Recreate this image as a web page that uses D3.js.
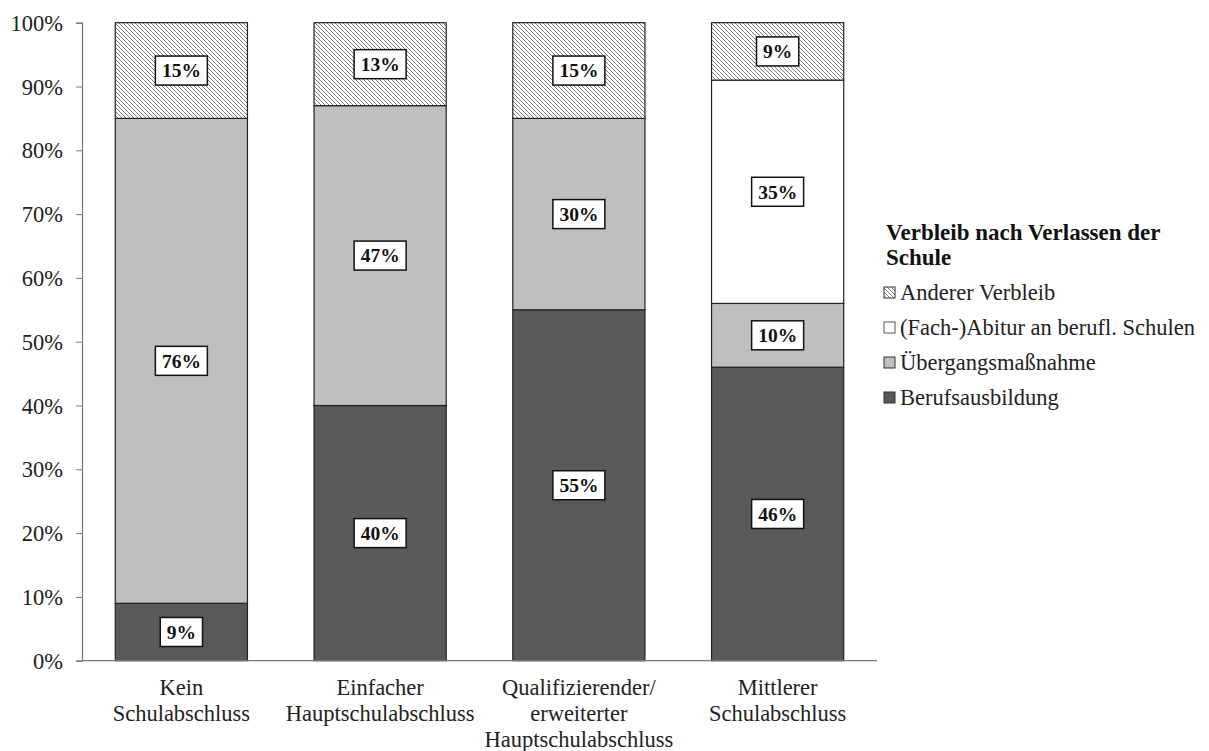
<!DOCTYPE html>
<html>
<head>
<meta charset="utf-8">
<script src="https://cdnjs.cloudflare.com/ajax/libs/d3/7.8.5/d3.min.js"></script>
<style>
  body { margin: 0; background: #fff; }
  svg text { font-family: "Liberation Serif", "Times New Roman", serif; }
</style>
</head>
<body>
<svg id="chart" width="1209" height="751"></svg>
<script>
// categories (x axis), each one split in lines
var aCategories = [
    ["Kein", "Schulabschluss"],
    ["Einfacher", "Hauptschulabschluss"],
    ["Qualifizierender/", "erweiterter", "Hauptschulabschluss"],
    ["Mittlerer", "Schulabschluss"]
];

// series, bottom to top
var aSeries = ["Berufsausbildung", "Übergangsmaßnahme", "(Fach-)Abitur an berufl. Schulen", "Anderer Verbleib"];
var aBeruf = [9, 40, 55, 46];
var aUebergang = [76, 47, 30, 10];
var aAbitur = [0, 0, 0, 35];
var aAnderer = [15, 13, 15, 9];

var aTicks = [0, 10, 20, 30, 40, 50, 60, 70, 80, 90, 100];
var legendTitle = ["Verbleib nach Verlassen der", "Schule"];

var aFills = ["#595959", "#bfbfbf", "#ffffff", "url(#hatch)"];

var svg = d3.select("#chart");

var defs = svg.append("defs");
var pat = defs.append("pattern")
    .attr("id", "hatch")
    .attr("patternUnits", "userSpaceOnUse")
    .attr("width", 4)
    .attr("height", 4);
pat.append("rect").attr("width", 4).attr("height", 4).attr("fill", "#fff");
pat.append("path")
    .attr("d", "M-1,-1 L5,5 M-1,3 L1,5 M3,-1 L5,1")
    .attr("stroke", "#6e6e6e")
    .attr("stroke-width", 0.9);

var plotLeft = 82, plotRight = 877, plotTop = 22.7, plotBottom = 660.7;
var fontSize = "22.5px";

var keys = aCategories.map(function(d, i){ return i; });
var rows = keys.map(function(i){
    return { i: i, s0: aBeruf[i], s1: aUebergang[i], s2: aAbitur[i], s3: aAnderer[i] };
});

var stack = d3.stack().keys(["s0", "s1", "s2", "s3"]);
var stacked = stack(rows);

var x = d3.scaleBand()
    .domain(keys)
    .range([plotLeft, plotRight])
    .paddingInner(0.335)
    .paddingOuter(0.1675);

var y = d3.scaleLinear()
    .domain([0, 100])
    .range([plotBottom, plotTop]);

// y axis
var yAxis = d3.axisLeft(y)
    .tickValues(aTicks)
    .tickSize(6)
    .tickFormat(function(d){ return d + "%"; });

var gy = svg.append("g")
    .attr("transform", "translate(" + plotLeft + ",0)")
    .call(yAxis);
gy.select(".domain").attr("stroke", "#777").attr("stroke-width", 1.2);
gy.selectAll(".tick line").attr("stroke", "#777");
gy.selectAll(".tick text")
    .attr("x", -19)
    .attr("dy", "0.34em")
    .attr("font-size", fontSize)
    .attr("fill", "#222")
    .style("font-family", "Liberation Serif");

// bars
var layers = svg.selectAll("g.layer")
    .data(stacked)
    .enter()
    .append("g")
    .attr("class", "layer")
    .attr("fill", function(d, i){ return aFills[i]; });

layers.selectAll("rect")
    .data(function(d){ return d.filter(function(p){ return p[1] - p[0] > 0; }); })
    .enter()
    .append("rect")
    .attr("x", function(d){ return x(d.data.i); })
    .attr("y", function(d){ return y(d[1]); })
    .attr("width", x.bandwidth())
    .attr("height", function(d){ return y(d[0]) - y(d[1]); })
    .attr("stroke", "#222")
    .attr("stroke-width", 1.2);

// x axis line
svg.append("line")
    .attr("x1", plotLeft).attr("x2", plotRight)
    .attr("y1", y(0)).attr("y2", y(0))
    .attr("stroke", "#777")
    .attr("stroke-width", 1.2);

// value labels
var aLabels = [];
stacked.forEach(function(layer){
    layer.forEach(function(d){
        if(d[1] - d[0] > 0){
            aLabels.push({ cx: x(d.data.i) + x.bandwidth() / 2, cy: y((d[0] + d[1]) / 2), v: d[1] - d[0] });
        }
    });
});

var lab = svg.selectAll("g.lab")
    .data(aLabels)
    .enter()
    .append("g")
    .attr("class", "lab")
    .attr("transform", function(d){ return "translate(" + d.cx + "," + d.cy + ")"; });

lab.append("text")
    .text(function(d){ return d.v + "%"; })
    .attr("text-anchor", "middle")
    .attr("y", 6.8)
    .attr("font-size", "19.5px")
    .attr("font-weight", "bold")
    .attr("fill", "#111");

lab.each(function(){
    var g = d3.select(this);
    var bb = g.select("text").node().getBBox();
    g.insert("rect", "text")
        .attr("x", bb.x - 6.5)
        .attr("y", -14.5)
        .attr("width", bb.width + 13)
        .attr("height", 29)
        .attr("fill", "#fff")
        .attr("stroke", "#111")
        .attr("stroke-width", 1.5);
});

// category labels
var cat = svg.selectAll("text.cat")
    .data(aCategories)
    .enter()
    .append("text")
    .attr("class", "cat")
    .attr("text-anchor", "middle")
    .attr("font-size", fontSize)
    .attr("fill", "#222");

cat.selectAll("tspan")
    .data(function(d, i){ return d.map(function(t){ return { t: t, i: i }; }); })
    .enter()
    .append("tspan")
    .attr("x", function(d){ return x(d.i) + x.bandwidth() / 2; })
    .attr("y", function(d, j){ return 695 + j * 26; })
    .text(function(d){ return d.t; });

// legend
var lg = svg.append("g").attr("transform", "translate(884,0)");

lg.selectAll("text.title")
    .data(legendTitle)
    .enter()
    .append("text")
    .attr("class", "title")
    .attr("x", 2)
    .attr("y", function(d, i){ return 240 + i * 25; })
    .attr("font-size", "23px")
    .attr("font-weight", "bold")
    .attr("fill", "#111")
    .text(function(d){ return d; });

var legendItems = aSeries.map(function(s, i){ return { name: s, fill: aFills[i] }; }).reverse();

var li = lg.selectAll("g.item")
    .data(legendItems)
    .enter()
    .append("g")
    .attr("class", "item")
    .attr("transform", function(d, i){ return "translate(0," + (300 + i * 35) + ")"; });

li.append("rect")
    .attr("x", 0)
    .attr("y", -13)
    .attr("width", 11)
    .attr("height", 11)
    .attr("fill", function(d){ return d.fill; })
    .attr("stroke", function(d){ return d.name === "(Fach-)Abitur an berufl. Schulen" ? "#555" : "#333"; })
    .attr("stroke-width", 1);

li.append("text")
    .attr("x", 16)
    .attr("y", 0)
    .attr("font-size", fontSize)
    .attr("fill", "#222")
    .text(function(d){ return d.name; });
</script>
</body>
</html>
